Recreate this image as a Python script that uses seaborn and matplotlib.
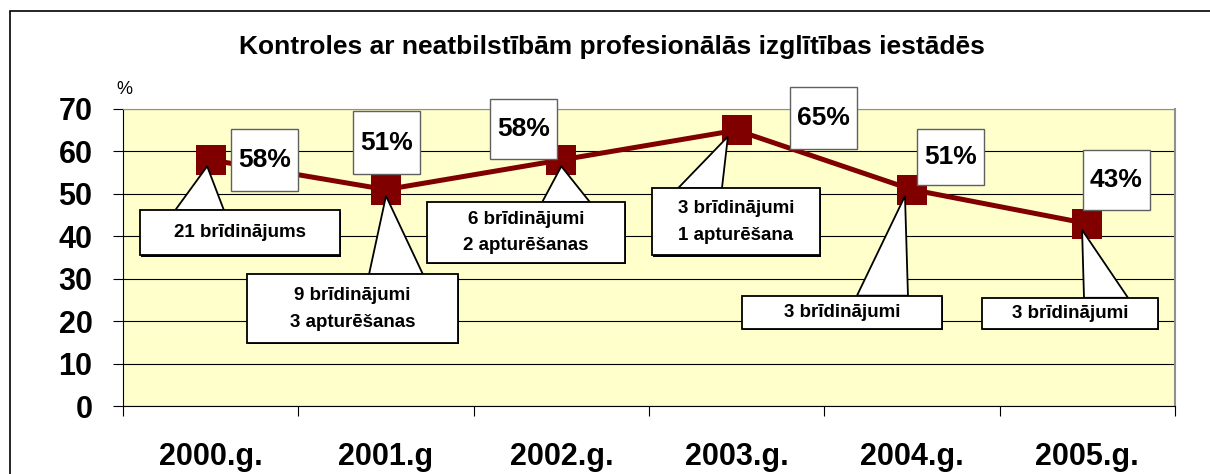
import numpy as np
import pandas as pd
import matplotlib
matplotlib.use("Agg")
import matplotlib.pyplot as plt
from matplotlib.patches import Rectangle, Polygon
from matplotlib.ticker import FixedLocator, MultipleLocator
from matplotlib import font_manager
import seaborn as sns

# ---- data ----
years = ["2000.g.", "2001.g", "2002.g.", "2003.g.", "2004.g.", "2005.g."]
percent = [58, 51, 58, 65, 51, 43]
pct_labels = ["58%", "51%", "58%", "65%", "51%", "43%"]
notes = ["21 brīdinājums",
         "9 brīdinājumi\n3 apturēšanas",
         "6 brīdinājumi\n2 apturēšanas",
         "3 brīdinājumi\n1 apturēšana",
         "3 brīdinājumi",
         "3 brīdinājumi"]
title = "Kontroles ar neatbilstībām profesionālās izglītības iestādēs"

# ---- layout (data-space offsets for annotation boxes) ----
# percent boxes: (x0, x1, y0, y1)
pct_boxes = [(0.116, 0.498, 50.6, 65.3),
             (0.812, 1.194, 54.6, 69.5),
             (1.593, 1.975, 58.2, 72.4),
             (3.304, 3.686, 60.5, 75.2),
             (4.029, 4.411, 52.0, 65.3),
             (4.975, 5.357, 46.1, 60.3)]
# callouts: box (x0, x1, y0, y1), wedge base (xa, xb), tip offset (dx, dy)
call_boxes = [(-0.403, 0.738, 35.5, 46.1),
              (0.207, 1.411, 14.9, 31.0),
              (1.234, 2.363, 33.8, 48.0),
              (2.517, 3.475, 35.5, 51.3),
              (3.030, 4.171, 18.2, 26.0),
              (4.399, 5.403, 18.2, 25.5)]
wedge_base = [(-0.203, 0.076), (0.903, 1.211), (1.890, 2.164),
              (2.665, 2.916), (3.686, 3.977), (4.981, 5.232)]
tip_off = [(-0.02, -1.5), (0.0, -1.5), (0.0, -1.5),
           (-0.05, -1.5), (-0.04, -1.5), (-0.03, -1.5)]

sns.set_theme(style="white")
plt.rcParams['font.family'] = ['Liberation Sans', 'DejaVu Sans']
plt.rcParams['text.color'] = 'black'
plt.rcParams['xtick.color'] = 'black'
plt.rcParams['ytick.color'] = 'black'

installed = {f.name for f in font_manager.fontManager.ttflist}
if "Liberation Sans Narrow" in installed:
    pct_family, pct_size = ["Liberation Sans Narrow", "Liberation Sans"], 21
else:
    pct_family, pct_size = ["Liberation Sans", "DejaVu Sans"], 19

fig = plt.figure(figsize=(12.1, 4.74), dpi=100)
ax = fig.add_axes([123/1210, 1 - 406/474, (1175-123)/1210, (406-109)/474])
ax.set_facecolor("#FFFFCC")

df = pd.DataFrame({"x": np.arange(len(years)), "y": percent})
sns.lineplot(data=df, x="x", y="y", ax=ax, color="#800000", lw=3.6,
             marker="s", markersize=21, markeredgewidth=0, zorder=3)

ax.set_xlim(-0.5, len(years) - 0.5)
ax.set_ylim(0, 70)
ax.yaxis.set_major_locator(MultipleLocator(10))
ax.grid(axis="y", color="black", lw=0.8, zorder=0)
ax.set_axisbelow(True)
ax.set_xlabel("")
ax.set_ylabel("")

ax.set_xticks(np.arange(len(years)))
ax.set_xticklabels(years, fontsize=22, fontweight="bold")
ax.xaxis.set_minor_locator(FixedLocator(np.arange(len(years) + 1) - 0.5))
ax.tick_params(axis="x", which="major", length=0, pad=26)
ax.tick_params(axis="x", which="minor", length=7, width=0.8, color="black", direction="out", bottom=True)
ax.tick_params(axis="y", which="major", length=7, width=0.8, color="black", direction="out", left=True,
               labelsize=22, pad=15)
for lab in ax.get_yticklabels():
    lab.set_fontweight("bold")

for s in ["left", "bottom"]:
    ax.spines[s].set_color("black")
    ax.spines[s].set_linewidth(0.8)
ax.spines["right"].set_color("#909090")
ax.spines["right"].set_linewidth(1.5)
ax.spines["top"].set_color("#909090")
ax.spines["top"].set_linewidth(0.8)

# callouts
for i, (txt, box, wb, to) in enumerate(zip(notes, call_boxes, wedge_base, tip_off)):
    x0, x1, y0, y1 = box
    tip = (i + to[0], percent[i] + to[1])
    wedge = Polygon([(wb[0], y1), tip, (wb[1], y1)], closed=True, fc="white",
                    ec="black", lw=1.3, zorder=4, clip_on=False)
    ax.add_patch(wedge)
    shadow = Rectangle((x0 + 0.008, y0 - 0.4), x1 - x0, y1 - y0, fc="black", ec="none",
                       zorder=4.5, clip_on=False)
    ax.add_patch(shadow)
    rect = Rectangle((x0, y0), x1 - x0, y1 - y0, fc="white", ec="black", lw=1.3,
                     zorder=5, clip_on=False)
    ax.add_patch(rect)
    ax.text((x0 + x1) / 2, (y0 + y1) / 2, txt, ha="center", va="center", fontsize=13.5,
            fontweight="bold", linespacing=1.75, zorder=6)

# percent boxes
for lab, box in zip(pct_labels, pct_boxes):
    x0, x1, y0, y1 = box
    rect = Rectangle((x0, y0), x1 - x0, y1 - y0, fc="white", ec="#606060", lw=1.0,
                     zorder=5, clip_on=False)
    ax.add_patch(rect)
    ax.text((x0 + x1) / 2, (y0 + y1) / 2, lab, ha="center", va="center", fontsize=pct_size,
            fontweight="bold", family=pct_family, zorder=6)

fig.text(612/1210, 1 - 47/474, title, ha="center", va="center", fontsize=19, fontweight="bold")
fig.text(124/1210, 1 - 89/474, "%", ha="center", va="center", fontsize=13)

frame = Rectangle((10/1210, -0.1), 1.2, (474 - 11)/474 + 0.1, transform=fig.transFigure,
                  fill=False, ec="black", lw=1.2)
fig.patches.append(frame)

fig.savefig("out.png", dpi=100)
